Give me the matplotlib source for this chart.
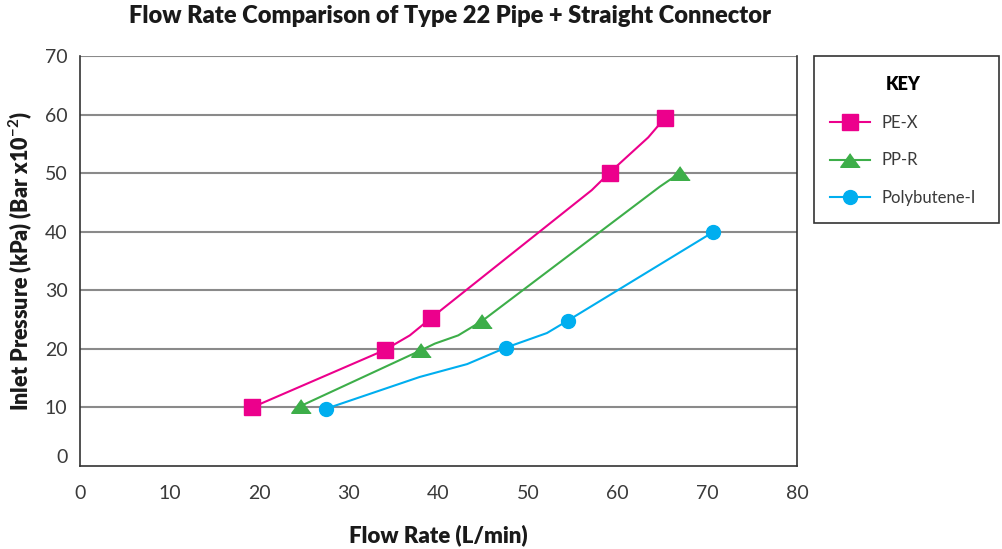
import matplotlib
matplotlib.use("Agg")
import matplotlib.pyplot as plt
import matplotlib.transforms as mtransforms
from matplotlib.patches import Rectangle

plt.rcParams['font.family'] = ['Lato', 'DejaVu Sans']
plt.rcParams['mathtext.fontset'] = 'custom'
plt.rcParams['mathtext.rm'] = 'Lato:bold'
plt.rcParams['mathtext.it'] = 'Lato:bold'

# marker points
pex_x = [19.2, 34.0, 39.2, 59.1, 65.3]
pex_y = [10.0, 19.8, 25.3, 50.1, 59.5]
ppr_x = [24.7, 38.1, 44.9, 66.9]
ppr_y = [10.3, 19.8, 24.8, 50.0]
pb_x = [27.5, 47.5, 54.4, 70.6]
pb_y = [9.8, 20.2, 24.8, 39.9]

# line vertices (markers plus the small bends of the drawn curves)
pex_line_x = [19.2, 34.0, 36.8, 39.2, 57.1, 59.1, 63.4, 65.3]
pex_line_y = [10.0, 19.8, 22.3, 25.3, 47.1, 50.1, 56.1, 59.5]
ppr_line_x = [24.7, 38.1, 39.6, 42.2, 44.9, 64.7, 66.9]
ppr_line_y = [10.3, 19.8, 20.9, 22.3, 24.8, 47.7, 50.0]
pb_line_x = [27.5, 37.9, 43.2, 47.5, 52.1, 54.4, 70.6]
pb_line_y = [9.8, 15.2, 17.4, 20.2, 22.7, 24.8, 39.9]

x_ticks = [0, 10, 20, 30, 40, 50, 60, 70, 80]
y_ticks = [0, 10, 20, 30, 40, 50, 60, 70]

pink = '#EC008C'
green = '#3DAE49'
blue = '#00AEEF'
tri = [(0, 0.7), (-1, -0.7), (1, -0.7)]

fig = plt.figure(figsize=(10.03, 5.49), dpi=100)
ax = fig.add_axes([80 / 1003, 83 / 549, 717 / 1003, 410 / 549])

for y in y_ticks[1:]:
    ax.axhline(y, color='#8a8a8a', lw=1.5, zorder=1)

ax.plot(pex_line_x, pex_line_y, color=pink, lw=1.5, zorder=3)
ax.plot(ppr_line_x, ppr_line_y, color=green, lw=1.5, zorder=3)
ax.plot(pb_line_x, pb_line_y, color=blue, lw=1.5, zorder=3)
ax.plot(pex_x, pex_y, ls='none', marker='s', ms=12, color=pink, zorder=4)
ax.plot(ppr_x, ppr_y, ls='none', marker=tri, ms=14, color=green, zorder=4)
ax.plot(pb_x, pb_y, ls='none', marker='o', ms=10, color=blue, zorder=4)

ax.set_xlim(0, 80)
ax.set_ylim(0, 70)
ax.set_xticks(x_ticks)
ax.set_yticks(y_ticks)
ax.tick_params(length=0, labelsize=14, labelcolor='#3a3a3a')
ax.tick_params(axis='x', pad=14)
ax.tick_params(axis='y', pad=9)
# the "0" label sits a little above the axis in the original
ylab0 = ax.get_yticklabels()[0]
ylab0.set_transform(ylab0.get_transform() +
                    mtransforms.ScaledTranslation(0, 10 / 100, fig.dpi_scale_trans))

for s in ['left', 'bottom', 'right']:
    ax.spines[s].set_color('#333333')
    ax.spines[s].set_linewidth(1.2)
ax.spines['top'].set_visible(False)

ax.set_xlabel('Flow Rate (L/min)', fontsize=16, fontweight='heavy', labelpad=16, color='#1a1a1a')
ax.set_ylabel(r'Inlet Pressure (kPa) (Bar x10$^{-2}$)', fontsize=15.5, fontweight='heavy',
              labelpad=8, color='#1a1a1a')
fig.text(450 / 1003, 1 - 16 / 549, 'Flow Rate Comparison of Type 22 Pipe + Straight Connector',
         ha='center', va='center', fontsize=17, fontweight='heavy', color='#1a1a1a')

# key box
fig.patches.append(Rectangle((814 / 1003, 1 - 223 / 549), 185 / 1003, 167 / 549,
                             transform=fig.transFigure, fill=False, ec='#333333', lw=1.2))
h1, = ax.plot([], [], color=pink, lw=1.5, marker='s', ms=12)
h2, = ax.plot([], [], color=green, lw=1.5, marker=tri, ms=14)
h3, = ax.plot([], [], color=blue, lw=1.5, marker='o', ms=10)
leg = fig.legend([h1, h2, h3], ['PE-X', 'PP-R', 'Polybutene-I'], loc='upper left',
                 bbox_to_anchor=(815 / 1003, 1 - 61 / 549), frameon=False, fontsize=12,
                 handlelength=2.4, handletextpad=0.7, labelspacing=1.3,
                 title='KEY', title_fontproperties={'weight': 'heavy', 'size': 13})
for t in leg.get_texts():
    t.set_color('#3a3a3a')

fig.savefig('out.png', dpi=100)
